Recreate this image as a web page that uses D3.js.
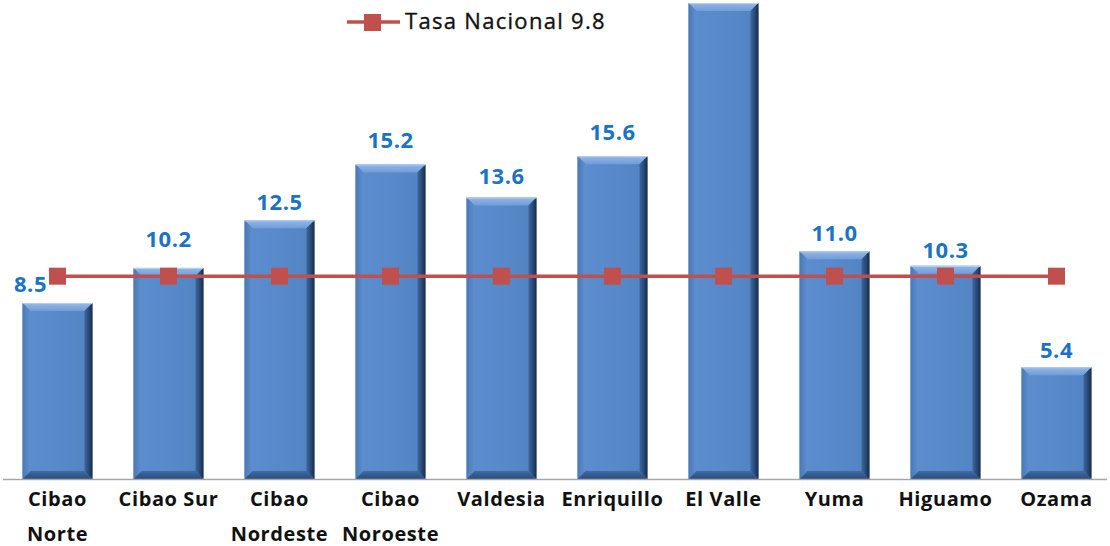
<!DOCTYPE html>
<html>
<head>
<meta charset="utf-8">
<script src="https://cdn.jsdelivr.net/npm/d3@7"></script>
<style>
  html, body { margin: 0; padding: 0; background: #ffffff; }
  svg { display: block; }
</style>
</head>
<body>
<svg id="chart" width="1110" height="546"></svg>
<script>
// Regional rates compared with the national rate
const categories = ["Cibao Norte", "Cibao Sur", "Cibao Nordeste", "Cibao Noroeste", "Valdesia",
                    "Enriquillo", "El Valle", "Yuma", "Higuamo", "Ozama"];
const regionValues = [8.5, 10.2, 12.5, 15.2, 13.6, 15.6, 23.0, 11.0, 10.3, 5.4];
const nationalRate = 9.8;
const nationalLabel = "Tasa Nacional 9.8";
const valueLabels = ["8.5", "10.2", "12.5", "15.2", "13.6", "15.6", null, "11.0", "10.3", "5.4"];
// Category labels split over two lines
const tickLines = [["Cibao", "Norte"], ["Cibao Sur"], ["Cibao", "Nordeste"], ["Cibao", "Noroeste"], ["Valdesia"],
                   ["Enriquillo"], ["El Valle"], ["Yuma"], ["Higuamo"], ["Ozama"]];

const svg = d3.select("#chart");
const baseY = 479;
const font = "'Open Sans', Lato, sans-serif";

const x = d3.scaleBand().domain(categories).range([2, 1112]).paddingInner(0.37).paddingOuter(0.185);
const y = d3.scaleLinear().domain([0, 23]).range([baseY, 3]);

const defs = svg.append("defs");
function grad(id, x1, y1, x2, y2, stops) {
  const g = defs.append("linearGradient").attr("id", id)
    .attr("x1", x1).attr("y1", y1).attr("x2", x2).attr("y2", y2);
  stops.forEach(s => g.append("stop").attr("offset", s[0]).attr("stop-color", s[1]));
}
grad("face", 0, 0, 1, 0, [[0, "#5c8ecf"], [0.5, "#5889ca"], [1, "#5182c1"]]);
grad("topB", 0, 0, 0, 1, [[0, "#93b8e8"], [1, "#719cd8"]]);
grad("rightB", 0, 0, 1, 0, [[0, "#3d68a0"], [0.6, "#274670"], [1, "#172b48"]]);
grad("leftB", 0, 0, 1, 0, [[0, "#4a78b4"], [1, "#5e8fd0"]]);
grad("botB", 0, 0, 0, 1, [[0, "#3e6aa4"], [1, "#2a4c7c"]]);

const bev = 8;
const bars = svg.append("g").selectAll("g").data(categories).join("g");
bars.each(function(c, i) {
  const g = d3.select(this);
  const x0 = x(c), x1 = x(c) + x.bandwidth();
  const y0 = y(regionValues[i]), y1 = baseY;
  g.append("rect").attr("x", x0).attr("y", y0).attr("width", x1 - x0).attr("height", y1 - y0)
    .attr("fill", "url(#face)");
  const poly = (pts, fill) => g.append("polygon").attr("points", pts.map(p => p.join(",")).join(" ")).attr("fill", fill);
  poly([[x0, y0], [x1, y0], [x1 - bev, y0 + bev], [x0 + bev, y0 + bev]], "url(#topB)");
  poly([[x1, y0], [x1, y1], [x1 - bev, y1 - bev], [x1 - bev, y0 + bev]], "url(#rightB)");
  poly([[x0, y0], [x0 + bev, y0 + bev], [x0 + bev, y1 - bev], [x0, y1]], "url(#leftB)");
  poly([[x0, y1], [x0 + bev, y1 - bev], [x1 - bev, y1 - bev], [x1, y1]], "url(#botB)");
  g.append("rect").attr("x", x0).attr("y", y0).attr("width", x1 - x0).attr("height", 1)
    .attr("fill", "#b8d0ef");
});

// Category axis
svg.append("line").attr("x1", 3).attr("x2", 1107).attr("y1", baseY + 0.5).attr("y2", baseY + 0.5)
  .attr("stroke", "#a6a6a6").attr("stroke-width", 1.5);

const ticks = svg.append("g").attr("font-family", font)
  .attr("font-weight", "bold").attr("font-size", 20).attr("letter-spacing", 0.6).attr("fill", "#111");
categories.forEach((c, i) => {
  const t = ticks.append("text").attr("x", x(c) + x.bandwidth() / 2).attr("text-anchor", "middle");
  tickLines[i].forEach((ln, j) => t.append("tspan").attr("x", x(c) + x.bandwidth() / 2).attr("y", 506 + j * 35).text(ln));
});

// National rate line
const cx = c => x(c) + x.bandwidth() / 2;
svg.append("path").datum(categories)
  .attr("d", d3.line().x(cx).y(() => y(nationalRate)))
  .attr("fill", "none").attr("stroke", "#c0504d").attr("stroke-width", 3.5);
const ms = 17;
svg.append("g").selectAll("rect").data(categories).join("rect")
  .attr("x", c => cx(c) - ms / 2).attr("y", y(nationalRate) - ms / 2)
  .attr("width", ms).attr("height", ms).attr("fill", "#c0504d");

// Value labels
const labelDx = [-27, 0, 0, 0, 0, 0, 0, 0, 0, 0];
const labelGap = [11, 21, 10, 16, 14, 16, 12, 10, 8, 9];
svg.append("g").attr("font-family", font).attr("font-weight", "bold")
  .attr("font-size", 22).attr("letter-spacing", 0.5).attr("fill", "#1a73c6").attr("text-anchor", "middle")
  .selectAll("text").data(categories.filter((c, i) => valueLabels[i] !== null)).join("text")
  .attr("x", c => cx(c) + labelDx[categories.indexOf(c)])
  .attr("y", c => y(regionValues[categories.indexOf(c)]) - labelGap[categories.indexOf(c)])
  .text(c => valueLabels[categories.indexOf(c)]);

// Legend
const lg = svg.append("g");
lg.append("line").attr("x1", 347).attr("x2", 400).attr("y1", 22).attr("y2", 22)
  .attr("stroke", "#c0504d").attr("stroke-width", 3.5);
lg.append("rect").attr("x", 364).attr("y", 14).attr("width", 17).attr("height", 17).attr("fill", "#c0504d");
lg.append("text").attr("x", 405).attr("y", 29).attr("font-family", font)
  .attr("font-size", 22).attr("letter-spacing", 1.3).attr("fill", "#111").attr("stroke", "#111").attr("stroke-width", 0.35)
  .text(nationalLabel);
</script>
</body>
</html>
